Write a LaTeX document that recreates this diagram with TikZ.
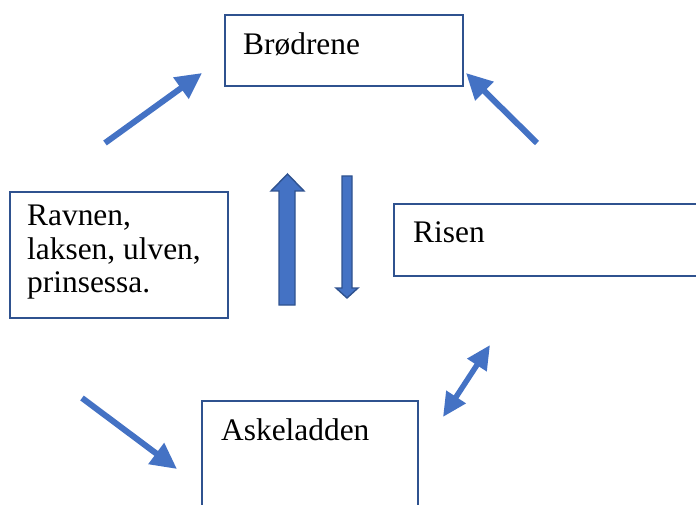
\documentclass[tikz,border=0pt]{standalone}
\usepackage{fontspec}
\setmainfont{Liberation Serif}
\usetikzlibrary{arrows.meta,calc}
\definecolor{ofblue}{HTML}{4472C4}
\definecolor{ofdark}{HTML}{2F528F}
\tikzset{
  boxnode/.style={draw=ofdark, line width=1.6pt, rectangle, inner sep=0pt, anchor=north west},
  lbl/.style={anchor=base west, inner sep=0pt, font=\fontsize{31.4}{33.5}\selectfont, align=left},
  thinarrow/.style={draw=ofblue, line width=6pt, -{Triangle[length=26pt,width=25pt]}},
  dblarrow/.style={draw=ofblue, line width=5.5pt, {Triangle[length=24pt,width=22pt]}-{Triangle[length=24pt,width=22pt]}},
  blockarrow/.style={fill=ofblue, draw=ofdark, line width=1.4pt, line join=miter}
}
\begin{document}
\begin{tikzpicture}[x=1pt,y=-1pt]
\useasboundingbox (0,0) rectangle (696,505);
\clip (0,0) rectangle (696,505);
% boxes
\node[boxnode, minimum width=238pt, minimum height=71pt] (bro) at (224,14) {};
\node[lbl] (brot) at ($(bro.north west)+(19,41)$) {Brødrene};
\node[boxnode, minimum width=330pt, minimum height=72pt] (ris) at (393,203) {};
\node[lbl] (rist) at ($(ris.north west)+(20,40)$) {Risen};
\node[boxnode, minimum width=218pt, minimum height=126pt] (rav) at (9,191) {};
\node[lbl, anchor=north west] (ravt) at ($(rav.north west)+(18,14)$) {Ravnen,\\laksen, ulven,\\prinsessa.};
\node[boxnode, minimum width=216pt, minimum height=140pt] (ask) at (201,400) {};
\node[lbl] (askt) at ($(ask.north west)+(20,40)$) {Askeladden};
% free arrow end points
\coordinate (a1s) at (105,143); \coordinate (a1e) at (202,73);
\coordinate (a2s) at (537,143); \coordinate (a2e) at (466,73);
\coordinate (a3s) at (82,398);  \coordinate (a3e) at (177,469);
\coordinate (a4s) at (443,417); \coordinate (a4e) at (490,345);
\draw[thinarrow] (a1s) -- (a1e);
\draw[thinarrow] (a2s) -- (a2e);
\draw[thinarrow] (a3s) -- (a3e);
\draw[dblarrow] (a4s) -- (a4e);
% block arrows
\filldraw[blockarrow] (279,305) -- (295,305) -- (295,191) -- (304,191) -- (287.5,174) -- (271,191) -- (279,191) -- cycle;
\filldraw[blockarrow] (342,176) -- (352,176) -- (352,288) -- (358,288) -- (347,298) -- (336,288) -- (342,288) -- cycle;
\end{tikzpicture}
\end{document}
